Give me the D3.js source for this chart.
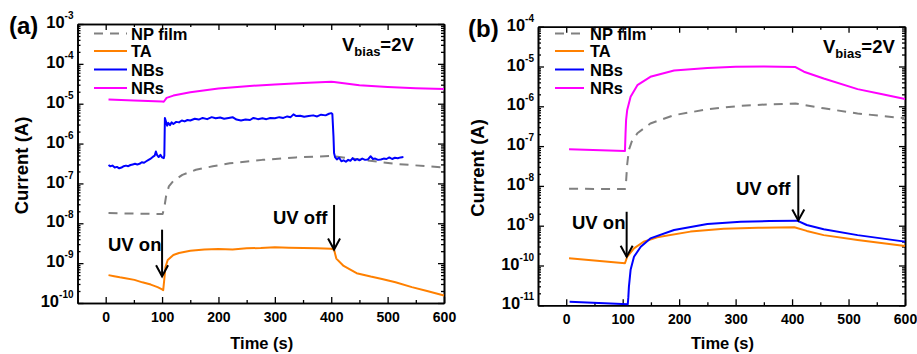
<!DOCTYPE html>
<html><head><meta charset="utf-8">
<script src="https://cdn.jsdelivr.net/npm/d3@7"></script>
<style>
html,body{margin:0;padding:0;background:#fff;}
svg{display:block;font-family:"Liberation Sans",Arial,Helvetica,sans-serif;font-weight:bold;}
</style></head>
<body>
<svg id="chart" width="917" height="354"></svg>
<script>
// ---------------- DATA ----------------
const seriesNames = ["NP film", "TA", "NBs", "NRs"];
const xTicks = [0, 100, 200, 300, 400, 500, 600];
const xMinorTicks = [50, 150, 250, 350, 450, 550];
const yTicksA = [-10, -9, -8, -7, -6, -5, -4, -3];
const yTicksB = [-11, -10, -9, -8, -7, -6, -5, -4];

// Panel (a)
const aNP = [[5,1.8e-8],[50,1.75e-8],[101,1.7e-8],[104,2.5e-8],[107,4.7e-8],[112,8.4e-8],[120,1.15e-7],[136,1.64e-7],[160,2.2e-7],[190,2.7e-7],[220,3.2e-7],[278,3.9e-7],[337,4.5e-7],[400,4.9e-7],[455,3.9e-7],[514,3.1e-7],[600,2.5e-7]];
const aTA = [[5,5e-10],[15,4.7e-10],[25,4.4e-10],[35,4.2e-10],[51,3.8e-10],[65,3.3e-10],[80,2.9e-10],[92,2.5e-10],[100,2.2e-10],[102,2.1e-10],[104,4e-10],[106,8e-10],[110,1.2e-9],[120,1.6e-9],[130,1.8e-9],[150,2.05e-9],[175,2.2e-9],[200,2.25e-9],[225,2.2e-9],[250,2.35e-9],[275,2.4e-9],[300,2.5e-9],[325,2.45e-9],[350,2.4e-9],[375,2.35e-9],[400,2.3e-9],[405,2.2e-9],[409,1.3e-9],[422,8.5e-10],[445,5.6e-10],[470,4.6e-10],[490,4.0e-10],[514,3.3e-10],[543,2.5e-10],[570,2.0e-10],[600,1.55e-10]];
const aNB = [[5,2.9e-7],[8,2.7e-7],[12,2.8e-7],[16,2.5e-7],[20,2.6e-7],[24,2.4e-7],[28,2.5e-7],[32,2.7e-7],[36,2.8e-7],[40,2.7e-7],[44,2.9e-7],[48,3.0e-7],[52,3.1e-7],[56,3.0e-7],[60,3.1e-7],[64,3.4e-7],[68,3.3e-7],[72,3.6e-7],[76,3.9e-7],[80,4.2e-7],[84,4.7e-7],[87,5.0e-7],[89,6.3e-7],[91,5.2e-7],[94,4.6e-7],[97,5.2e-7],[100,4.5e-7],[103,4.3e-7],[104,5e-7],[105,4.4e-6],[107,3.5e-6],[109,2.8e-6],[111,3.3e-6],[114,2.9e-6],[117,3.4e-6],[120,3.1e-6],[125,3.5e-6],[130,3.4e-6],[135,3.8e-6],[140,3.6e-6],[145,3.9e-6],[150,3.8e-6],[158,4.2e-6],[165,4.0e-6],[172,4.4e-6],[180,4.1e-6],[188,4.6e-6],[195,4.3e-6],[203,4.5e-6],[210,4.2e-6],[218,4.4e-6],[225,4.6e-6],[232,4.0e-6],[240,3.8e-6],[248,4.0e-6],[256,3.9e-6],[262,4.4e-6],[270,4.1e-6],[278,4.3e-6],[285,4.1e-6],[292,4.4e-6],[300,4.3e-6],[308,4.6e-6],[315,4.4e-6],[322,4.8e-6],[328,4.6e-6],[333,5.4e-6],[338,4.9e-6],[345,5.0e-6],[352,4.7e-6],[360,4.9e-6],[368,5.1e-6],[375,4.8e-6],[382,5.3e-6],[390,5.1e-6],[396,5.6e-6],[400,5.8e-6],[402,5.5e-6],[404,1.5e-6],[405,5.8e-7],[407,4.5e-7],[410,4.0e-7],[414,4.4e-7],[418,3.6e-7],[422,3.8e-7],[426,3.5e-7],[430,3.9e-7],[434,3.7e-7],[438,4.3e-7],[442,3.8e-7],[446,4.1e-7],[450,3.8e-7],[455,4.2e-7],[460,3.9e-7],[465,4.0e-7],[470,4.8e-7],[474,4.1e-7],[478,4.2e-7],[483,3.9e-7],[488,4.0e-7],[493,4.2e-7],[498,4.1e-7],[503,4.5e-7],[508,4.1e-7],[513,4.4e-7],[518,4.3e-7],[523,4.5e-7],[528,4.6e-7]];
const aNR = [[5,1.27e-5],[50,1.2e-5],[100,1.13e-5],[103,1.12e-5],[108,1.4e-5],[120,1.6e-5],[150,1.95e-5],[200,2.4e-5],[250,2.75e-5],[300,3.05e-5],[350,3.3e-5],[400,3.55e-5],[405,3.5e-5],[450,2.9e-5],[500,2.64e-5],[550,2.45e-5],[600,2.35e-5]];

// Panel (b)
const bNP = [[5,8.5e-9],[104,8.3e-9],[106,1.3e-8],[108,3.5e-8],[111,8e-8],[116,1.3e-7],[126,2.1e-7],[149,3.7e-7],[191,6e-7],[250,8.4e-7],[309,1.03e-6],[360,1.12e-6],[406,1.18e-6],[456,8.9e-7],[516,6.6e-7],[600,5e-7]];
const bTA = [[5,1.52e-10],[104,1.14e-10],[108,1.66e-10],[120,2.7e-10],[137,3.96e-10],[161,5.1e-10],[220,7.1e-10],[279,8.4e-10],[340,8.9e-10],[404,9.1e-10],[426,7.4e-10],[456,5.8e-10],[516,4.4e-10],[600,3.1e-10]];
const bNB = [[6,1.23e-11],[109,1.07e-11],[110,1.6e-11],[111,2.9e-11],[114,7.8e-11],[120,1.66e-10],[132,2.96e-10],[149,4.8e-10],[191,7.8e-10],[250,1.1e-9],[309,1.26e-9],[360,1.31e-9],[409,1.34e-9],[426,1.04e-9],[456,8.1e-10],[516,5.8e-10],[600,3.98e-10]];
const bNR = [[5,8.3e-8],[104,7.5e-8],[105,2e-7],[106,4.5e-7],[108,8.1e-7],[114,1.74e-6],[126,3.4e-6],[149,5.5e-6],[191,7.9e-6],[250,9.2e-6],[300,9.8e-6],[350,1e-5],[406,9.7e-6],[421,7.4e-6],[456,5e-6],[516,2.7e-6],[560,2e-6],[600,1.52e-6]];

// Annotations: [label, time, arrow top value, arrow tip value]
const annA = [["UV on", 100, 10**-8.16, 10**-9.33], ["UV off", 405, 10**-7.54, 10**-8.66]];
const annB = [["UV on", 107, 10**-8.65, 10**-9.78], ["UV off", 411, 10**-7.73, 10**-8.87]];

// ---------------- STYLE ----------------
const colors = {"NP film": "#808080", "TA": "#FF8000", "NBs": "#0000FF", "NRs": "#FF00FF"};

const panels = [
  {label: "(a)", x0: 77.5, x1: 444, y0: 303, y1: 24, yDom: [1e-10, 1e-3], yTicks: yTicksA,
   data: {"NP film": aNP, "TA": aTA, "NBs": aNB, "NRs": aNR}, ann: annA,
   annText: [[108, 250.5], [273, 223.5]], vbias: [342, 50.5], lab: [9, 34], legend: [94, 127, 131], yTitleX: 28},
  {label: "(b)", x0: 538, x1: 905, y0: 305.3, y1: 26.7, yDom: [1e-11, 1e-4], yTicks: yTicksB,
   data: {"NP film": bNP, "TA": bTA, "NBs": bNB, "NRs": bNR}, ann: annB,
   annText: [[572, 229], [736, 195]], vbias: [823, 53], lab: [468, 37], legend: [555, 584, 590], yTitleX: 484}
];

const svg = d3.select("#chart");

panels.forEach(p => {
  const x = d3.scaleLinear().domain([-50, 600]).range([p.x0, p.x1]);
  const y = d3.scaleLog().domain(p.yDom).range([p.y0, p.y1]);
  const g = svg.append("g");

  const minorY = [];
  p.yTicks.forEach(e => { if (e < p.yTicks[p.yTicks.length-1]) for (let k = 2; k <= 9; k++) minorY.push(k * 10**e); });
  const majY = p.yTicks.map(e => 10**e);

  const mk = (axisFn, scale, vals, size, tr) => {
    const ag = g.append("g").attr("transform", tr)
      .call(axisFn(scale).tickValues(vals).tickSize(size).tickFormat("").tickSizeOuter(0));
    ag.select(".domain").attr("stroke", "#000").attr("stroke-width", 1.6);
    ag.selectAll(".tick line").attr("stroke", "#000").attr("stroke-width", 1.3);
    return ag;
  };
  const xb = mk(d3.axisBottom, x, xTicks, -6, `translate(0,${p.y0})`);
  mk(d3.axisBottom, x, xMinorTicks, -3, `translate(0,${p.y0})`);
  xb.selectAll(".tick").append("text")
    .attr("y", 19).attr("text-anchor", "middle").attr("font-size", 14).attr("fill", "#000")
    .text(d => d);
  mk(d3.axisTop, x, xTicks, -6, `translate(0,${p.y1})`);
  mk(d3.axisTop, x, xMinorTicks, -3, `translate(0,${p.y1})`);
  const yl = mk(d3.axisLeft, y, majY, -6, `translate(${p.x0},0)`);
  mk(d3.axisLeft, y, minorY, -3, `translate(${p.x0},0)`);
  const yt = yl.selectAll(".tick").append("text")
    .attr("x", -4).attr("y", 0).attr("dy", "0.36em").attr("text-anchor", "end").attr("fill", "#000");
  yt.append("tspan").attr("font-size", 16.5).text("10");
  yt.append("tspan").attr("font-size", 10).attr("dy", "-0.9em").text(d => String(Math.round(Math.log10(d))));
  mk(d3.axisRight, y, majY, -6, `translate(${p.x1},0)`);
  mk(d3.axisRight, y, minorY, -3, `translate(${p.x1},0)`);

  g.append("text").attr("x", (p.x0 + p.x1) / 2 + 1).attr("y", 349).attr("text-anchor", "middle")
    .attr("font-size", 16.5).text("Time (s)");
  g.append("text").attr("transform", `translate(${p.yTitleX},${(p.y0 + p.y1) / 2 + 2}) rotate(-90)`)
    .attr("text-anchor", "middle").attr("font-size", 18.5).text("Current (A)");

  g.append("text").attr("x", p.lab[0]).attr("y", p.lab[1]).attr("font-size", 24).text(p.label);

  const line = d3.line().x(d => x(d[0])).y(d => y(d[1]));
  seriesNames.forEach(n => {
    g.append("path").datum(p.data[n]).attr("d", line).attr("fill", "none")
      .attr("stroke", colors[n]).attr("stroke-width", 2)
      .attr("stroke-linejoin", "round")
      .attr("stroke-dasharray", n === "NP film" ? "9,7" : null);
  });

  const ly = [33.5, 51, 69.5, 88];
  seriesNames.forEach((n, i) => {
    g.append("line").attr("x1", p.legend[0]).attr("x2", p.legend[1]).attr("y1", ly[i]).attr("y2", ly[i])
      .attr("stroke", colors[n]).attr("stroke-width", 2)
      .attr("stroke-dasharray", n === "NP film" ? "9,7" : null);
    g.append("text").attr("x", p.legend[2]).attr("y", ly[i] + 6).attr("font-size", 16.5).text(n);
  });

  const vb = g.append("text").attr("x", p.vbias[0]).attr("y", p.vbias[1]).attr("font-size", 18.5);
  vb.append("tspan").text("V");
  vb.append("tspan").attr("font-size", 13).attr("dy", 5).text("bias");
  vb.append("tspan").attr("dy", -5).text("=2V");

  p.ann.forEach((a, i) => {
    const ax = x(a[1]), yt0 = y(a[2]), yt1 = y(a[3]);
    g.append("line").attr("x1", ax).attr("x2", ax).attr("y1", yt0).attr("y2", yt1)
      .attr("stroke", "#000").attr("stroke-width", 2);
    g.append("path").attr("d", `M${ax - 6},${yt1 - 11}L${ax},${yt1}L${ax + 6},${yt1 - 11}`)
      .attr("fill", "none").attr("stroke", "#000").attr("stroke-width", 2);
    g.append("text").attr("x", p.annText[i][0]).attr("y", p.annText[i][1]).attr("font-size", 18.5).text(a[0]);
  });
});
</script>
</body></html>
